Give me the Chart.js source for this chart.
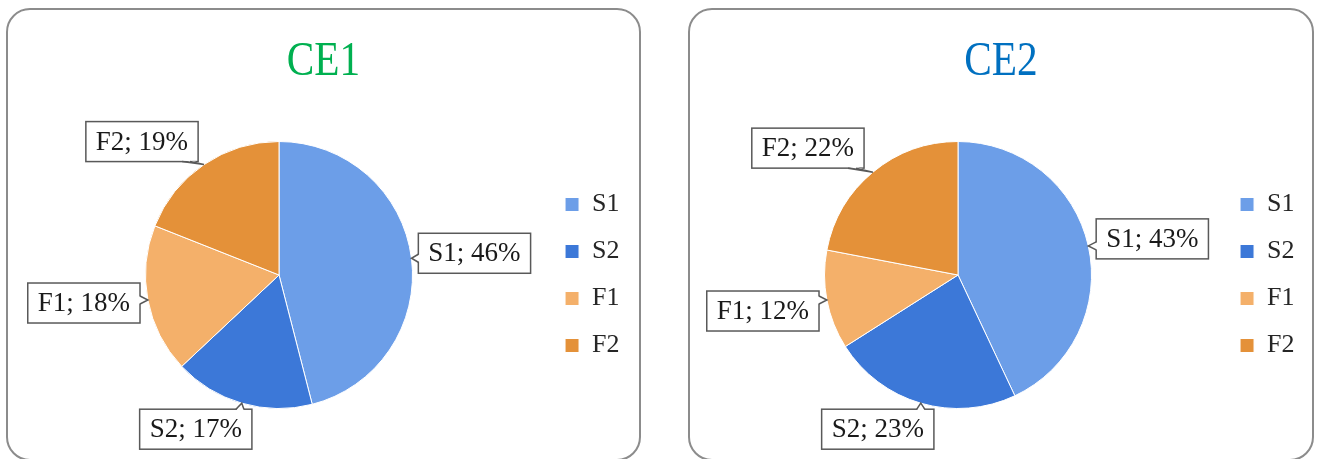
<!DOCTYPE html>
<html>
<head>
<meta charset="utf-8">
<script src="https://cdn.jsdelivr.net/npm/chart.js@4/dist/chart.umd.min.js"></script>
<style>
body { margin: 0; background: #fff; width: 1318px; height: 459px; overflow: hidden; position: relative; }
.panel { position: absolute; top: 8px; height: 453px; border: 2px solid #8c8c8c; border-radius: 24px; box-sizing: border-box; overflow: hidden; background: #fff; }
.panel canvas { display: block; }
</style>
</head>
<body>
<div class="panel" style="left:6px;width:635px"><canvas id="ce1" width="631" height="449"></canvas></div>
<div class="panel" style="left:688px;width:626px"><canvas id="ce2" width="622" height="449"></canvas></div>
<script>
var categories = ['S1', 'S2', 'F1', 'F2'];
var ce1Values = [46, 17, 18, 19];
var ce2Values = [43, 23, 12, 22];
var sliceColors = ['#6c9ee8', '#3c78d8', '#f4b06a', '#e49139'];

var serifFont = '"Liberation Serif", "Times New Roman", serif';

// where each callout box sits, relative to the middle of its slice's rim
var ce1Offsets = [[63, -5], [-46, 26], [-64, 3], [-62, -23]];
var ce2Offsets = [[64, -7], [-43, 26], [-64, 11], [-65, -24]];

// the titles use a narrow serif, so draw them squeezed
var narrowTitle = {
    id: 'narrowTitle',
    afterDraw: function (chart, args, opts) {
        var ctx = chart.ctx;
        ctx.save();
        ctx.font = '48px ' + serifFont;
        ctx.fillStyle = opts.color;
        ctx.textAlign = 'center';
        ctx.textBaseline = 'alphabetic';
        ctx.translate(chart.width / 2, opts.y);
        ctx.scale(0.86, 1);
        ctx.fillText(opts.text, 0, 0);
        ctx.restore();
    }
};

// "S1; 46%" boxes with a little wedge pointing at the slice
var callouts = {
    id: 'callouts',
    afterDatasetsDraw: function (chart, args, opts) {
        var ctx = chart.ctx;
        var meta = chart.getDatasetMeta(0);
        var data = chart.data.datasets[0].data;
        var total = data.reduce(function (a, b) { return a + b; }, 0);
        ctx.save();
        ctx.font = '27px ' + serifFont;
        meta.data.forEach(function (arc, i) {
            var p = arc.getProps(['x', 'y', 'startAngle', 'endAngle', 'outerRadius'], true);
            var mid = (p.startAngle + p.endAngle) / 2;
            var ax = p.x + Math.cos(mid) * p.outerRadius;
            var ay = p.y + Math.sin(mid) * p.outerRadius;
            var text = chart.data.labels[i] + '; ' + Math.round(data[i] / total * 100) + '%';
            var w = ctx.measureText(text).width + 20, h = 40;
            var cx = ax + opts.offsets[i][0], cy = ay + opts.offsets[i][1];
            var l = cx - w / 2, t = cy - h / 2, r = l + w, b = t + h;

            var b1, b2, n;
            if (ay >= t && ay <= b) {
                var ex = ax < l ? l : r;
                var yy = Math.min(Math.max(ay, t + 8), b - 8);
                b1 = [ex, yy - 4]; b2 = [ex, yy + 4];
                n = [ax < l ? 1.5 : -1.5, 0];
            } else {
                var ey = ay < t ? t : b;
                var xx = Math.min(Math.max(ax, l + 12), r - 12);
                b1 = [xx - 4, ey]; b2 = [xx + 4, ey];
                n = [0, ay < t ? 1.5 : -1.5];
            }

            ctx.fillStyle = '#fff';
            ctx.strokeStyle = '#595959';
            ctx.lineWidth = 1.5;
            ctx.fillRect(l, t, w, h);
            ctx.strokeRect(l, t, w, h);

            ctx.beginPath();
            ctx.moveTo(ax, ay);
            ctx.lineTo(b1[0] + n[0], b1[1] + n[1]);
            ctx.lineTo(b2[0] + n[0], b2[1] + n[1]);
            ctx.closePath();
            ctx.fill();
            ctx.beginPath();
            ctx.moveTo(b1[0], b1[1]);
            ctx.lineTo(ax, ay);
            ctx.lineTo(b2[0], b2[1]);
            ctx.stroke();

            ctx.fillStyle = '#1a1a1a';
            ctx.textAlign = 'center';
            ctx.textBaseline = 'middle';
            ctx.fillText(text, cx, cy + 1);
        });
        ctx.restore();
    }
};

function makePie(id, values, titleText, titleColor, offsets, padLeft, padRight) {
    return new Chart(document.getElementById(id), {
        type: 'pie',
        data: {
            labels: categories,
            datasets: [{
                data: values,
                backgroundColor: sliceColors,
                borderColor: '#fff',
                borderWidth: 1
            }]
        },
        options: {
            responsive: false,
            animation: false,
            layout: { padding: { top: 131, bottom: 50, left: padLeft, right: padRight } },
            plugins: {
                legend: {
                    position: 'right',
                    labels: {
                        boxWidth: 14,
                        boxHeight: 14,
                        padding: 21,
                        color: '#262626',
                        font: { family: serifFont, size: 26 }
                    }
                },
                tooltip: { enabled: false },
                narrowTitle: { text: titleText, color: titleColor, y: 65 },
                callouts: { offsets: offsets }
            }
        },
        plugins: [narrowTitle, callouts]
    });
}

makePie('ce1', ce1Values, 'CE1', '#00b050', ce1Offsets, 6, 9.5);
makePie('ce2', ce2Values, 'CE2', '#0070c0', ce2Offsets, 7, 7.5);
</script>
</body>
</html>
